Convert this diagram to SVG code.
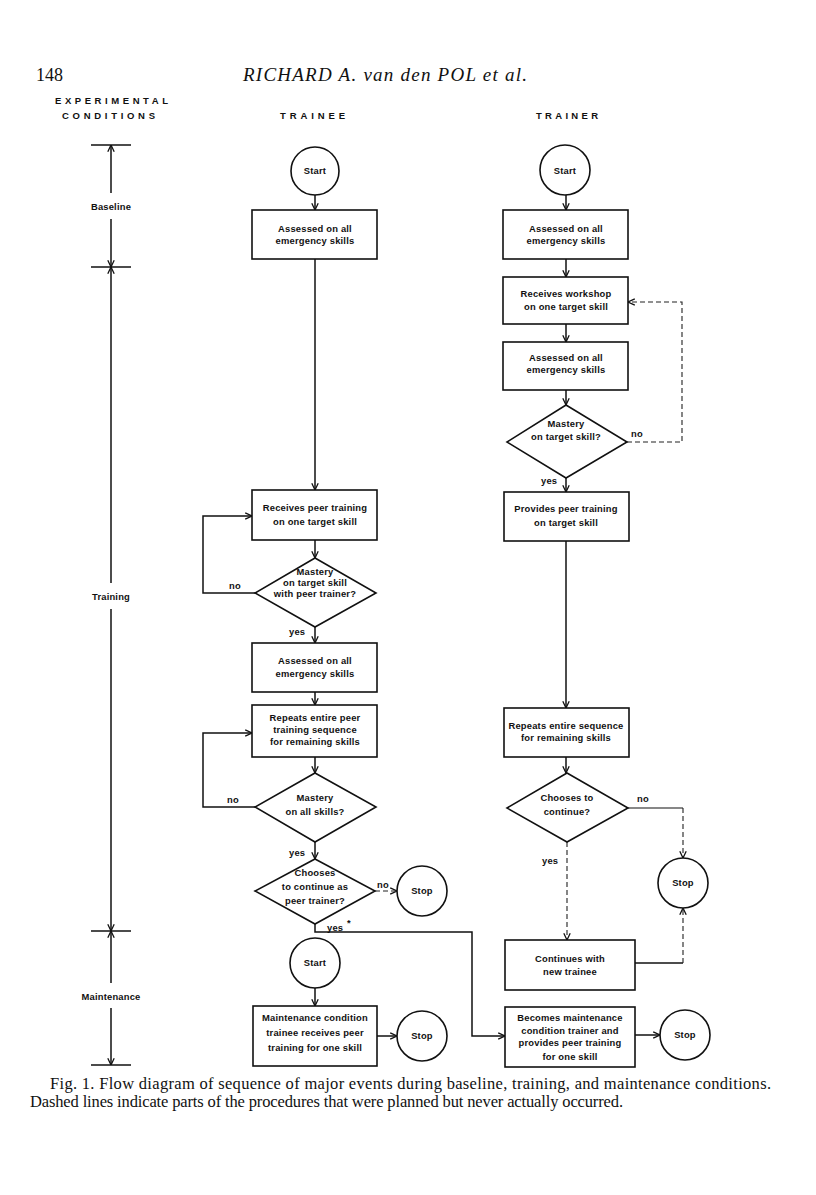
<svg xmlns="http://www.w3.org/2000/svg" width="816" height="1195" viewBox="0 0 816 1195">
<defs>
<marker id="arr" viewBox="0 0 10 10" refX="9.5" refY="5" markerWidth="8" markerHeight="8" markerUnits="userSpaceOnUse" orient="auto">
<path d="M1,1 L9.5,5 L1,9" fill="none" stroke="#111" stroke-width="1.6"/>
</marker>
<style>
.box{fill:#fff;stroke:#111;stroke-width:1.6}
.ln{fill:none;stroke:#111;stroke-width:1.5}
.dl{fill:none;stroke:#222;stroke-width:1.1;stroke-dasharray:5,3}
.t{font-family:"Liberation Sans",Arial,sans-serif;font-weight:bold;font-size:9.4px;fill:#111;text-anchor:middle;letter-spacing:0.2px}
.lbl{font-family:"Liberation Sans",Arial,sans-serif;font-weight:bold;font-size:9.4px;fill:#111;letter-spacing:0.2px}
.hd{font-family:"Liberation Sans",Arial,sans-serif;font-weight:bold;font-size:9.5px;fill:#111}
.ser{font-family:"Liberation Serif","Times New Roman",serif;fill:#111}
</style>
</defs>
<rect width="816" height="1195" fill="#fff"/>

<g id="header">
<text class="ser" x="36" y="81" font-size="18">148</text>
<text class="ser" x="243" y="81" font-size="19" font-style="italic" textLength="284">RICHARD A. van den POL et al.</text>
<text class="hd" x="55" y="104" textLength="113">EXPERIMENTAL</text>
<text class="hd" x="62" y="119" textLength="93">CONDITIONS</text>
<text class="hd" x="280" y="119" textLength="65">TRAINEE</text>
<text class="hd" x="536" y="119" textLength="62">TRAINER</text>
</g>

<g id="axis">
<line class="ln" x1="91" y1="145" x2="131" y2="145"/>
<line class="ln" x1="91" y1="267" x2="131" y2="267"/>
<line class="ln" x1="91" y1="931" x2="131" y2="931"/>
<line class="ln" x1="91" y1="1065" x2="131" y2="1065"/>
<line class="ln" x1="111" y1="193" x2="111" y2="145" marker-end="url(#arr)"/>
<line class="ln" x1="111" y1="219" x2="111" y2="267" marker-end="url(#arr)"/>
<line class="ln" x1="111" y1="583" x2="111" y2="267" marker-end="url(#arr)"/>
<line class="ln" x1="111" y1="609" x2="111" y2="931" marker-end="url(#arr)"/>
<line class="ln" x1="111" y1="983" x2="111" y2="931" marker-end="url(#arr)"/>
<line class="ln" x1="111" y1="1008" x2="111" y2="1065" marker-end="url(#arr)"/>
<text class="t" x="111" y="210">Baseline</text>
<text class="t" x="111" y="600">Training</text>
<text class="t" x="111" y="1000">Maintenance</text>
</g>

<g id="connectors">
<!-- trainee -->
<line class="ln" x1="315" y1="195" x2="315" y2="210" marker-end="url(#arr)"/>
<line class="ln" x1="315" y1="259" x2="315" y2="490" marker-end="url(#arr)"/>
<line class="ln" x1="315" y1="540" x2="315" y2="558" marker-end="url(#arr)"/>
<polyline class="ln" points="255,593 203,593 203,516 252,516" marker-end="url(#arr)"/>
<line class="ln" x1="315" y1="627" x2="315" y2="643" marker-end="url(#arr)"/>
<line class="ln" x1="315" y1="692" x2="315" y2="705" marker-end="url(#arr)"/>
<line class="ln" x1="315" y1="757" x2="315" y2="773" marker-end="url(#arr)"/>
<polyline class="ln" points="255,807 203,807 203,733 252,733" marker-end="url(#arr)"/>
<line class="ln" x1="315" y1="842" x2="315" y2="859" marker-end="url(#arr)"/>
<line class="dl" x1="375" y1="891" x2="397" y2="891" marker-end="url(#arr)"/>
<polyline class="ln" points="315,924 315,932 472,932 472,1036 505,1036" marker-end="url(#arr)"/>
<line class="ln" x1="315" y1="988" x2="315" y2="1006" marker-end="url(#arr)"/>
<line class="ln" x1="377" y1="1036" x2="397" y2="1036" marker-end="url(#arr)"/>
<!-- trainer -->
<line class="ln" x1="566" y1="195" x2="566" y2="210" marker-end="url(#arr)"/>
<line class="ln" x1="566" y1="259" x2="566" y2="277" marker-end="url(#arr)"/>
<line class="ln" x1="566" y1="324" x2="566" y2="342" marker-end="url(#arr)"/>
<line class="ln" x1="566" y1="390" x2="566" y2="405" marker-end="url(#arr)"/>
<polyline class="dl" points="627,442 682,442 682,302 628,302" marker-end="url(#arr)"/>
<line class="ln" x1="566" y1="478" x2="566" y2="492" marker-end="url(#arr)"/>
<line class="ln" x1="566" y1="541" x2="566" y2="708" marker-end="url(#arr)"/>
<line class="ln" x1="566" y1="757" x2="566" y2="773" marker-end="url(#arr)"/>
<line class="ln" x1="628" y1="808" x2="683" y2="808" style="stroke-width:1.1"/>
<line class="dl" x1="683" y1="808" x2="683" y2="858" marker-end="url(#arr)"/>
<line class="dl" x1="567" y1="842" x2="567" y2="940" marker-end="url(#arr)"/>
<line class="ln" x1="635" y1="963" x2="683" y2="963"/>
<line class="dl" x1="683" y1="963" x2="683" y2="908" marker-end="url(#arr)"/>
<line class="ln" x1="635" y1="1035" x2="660" y2="1035" marker-end="url(#arr)"/>
<!-- labels -->
<text class="lbl" x="229" y="589">no</text>
<text class="lbl" x="289" y="635">yes</text>
<text class="lbl" x="227" y="803">no</text>
<text class="lbl" x="289" y="856">yes</text>
<text class="lbl" x="377" y="888">no</text>
<text class="lbl" x="327" y="931">yes</text>
<text class="lbl" x="347" y="926" font-size="7">*</text>
<text class="lbl" x="631" y="437">no</text>
<text class="lbl" x="541" y="484">yes</text>
<text class="lbl" x="637" y="802">no</text>
<text class="lbl" x="542" y="864">yes</text>
</g>

<g id="n-trainee-start"><circle class="box" cx="315" cy="171" r="24"/><text class="t" x="315" y="174">Start</text></g>
<g id="n-trainee-assess1"><rect class="box" x="252" y="210" width="125" height="49"/><text class="t" x="315" y="232">Assessed on all</text><text class="t" x="315" y="244">emergency skills</text></g>
<g id="n-trainee-peer"><rect class="box" x="252" y="490" width="125" height="50"/><text class="t" x="315" y="511">Receives peer training</text><text class="t" x="315" y="525">on one target skill</text></g>
<g id="n-trainee-mastery1"><polygon class="box" points="315,558 376,593 315,627 255,593"/><text class="t" x="315" y="575">Mastery</text><text class="t" x="315" y="586">on target skill</text><text class="t" x="315" y="597">with peer trainer?</text></g>
<g id="n-trainee-assess2"><rect class="box" x="252" y="643" width="125" height="49"/><text class="t" x="315" y="664">Assessed on all</text><text class="t" x="315" y="677">emergency  skills</text></g>
<g id="n-trainee-repeat"><rect class="box" x="252" y="705" width="125" height="52"/><text class="t" x="315" y="721">Repeats entire peer</text><text class="t" x="315" y="733">training sequence</text><text class="t" x="315" y="745">for remaining skills</text></g>
<g id="n-trainee-mastery2"><polygon class="box" points="315,773 376,807 315,842 255,807"/><text class="t" x="315" y="801">Mastery</text><text class="t" x="315" y="815">on all skills?</text></g>
<g id="n-trainee-chooses"><polygon class="box" points="315,859 375,891 315,924 255,891"/><text class="t" x="315" y="876">Chooses</text><text class="t" x="315" y="890">to continue as</text><text class="t" x="315" y="904">peer trainer?</text></g>
<g id="n-trainee-stop1"><circle class="box" cx="422" cy="891" r="25"/><text class="t" x="422" y="894">Stop</text></g>
<g id="n-maint-start"><circle class="box" cx="315" cy="963" r="25"/><text class="t" x="315" y="966">Start</text></g>
<g id="n-maint-trainee"><rect class="box" x="253" y="1006" width="124" height="60"/><text class="t" x="315" y="1021">Maintenance condition</text><text class="t" x="315" y="1036">trainee receives  peer</text><text class="t" x="315" y="1051">training for one skill</text></g>
<g id="n-maint-stop1"><circle class="box" cx="422" cy="1036" r="25"/><text class="t" x="422" y="1039">Stop</text></g>

<g id="n-trainer-start"><circle class="box" cx="565" cy="170" r="25"/><text class="t" x="565" y="174">Start</text></g>
<g id="n-trainer-assess1"><rect class="box" x="503" y="210" width="125" height="49"/><text class="t" x="566" y="232">Assessed on all</text><text class="t" x="566" y="244">emergency skills</text></g>
<g id="n-trainer-workshop"><rect class="box" x="503" y="277" width="125" height="47"/><text class="t" x="566" y="297">Receives workshop</text><text class="t" x="566" y="310">on one target skill</text></g>
<g id="n-trainer-assess2"><rect class="box" x="503" y="342" width="125" height="48"/><text class="t" x="566" y="361">Assessed on all</text><text class="t" x="566" y="373">emergency skills</text></g>
<g id="n-trainer-mastery"><polygon class="box" points="566,405 627,442 566,478 507,442"/><text class="t" x="566" y="427">Mastery</text><text class="t" x="566" y="440">on target skill?</text></g>
<g id="n-trainer-provides"><rect class="box" x="504" y="492" width="125" height="49"/><text class="t" x="566" y="512">Provides peer training</text><text class="t" x="566" y="526">on target skill</text></g>
<g id="n-trainer-repeat"><rect class="box" x="504" y="708" width="125" height="49"/><text class="t" x="566" y="729">Repeats entire sequence</text><text class="t" x="566" y="741">for remaining skills</text></g>
<g id="n-trainer-chooses"><polygon class="box" points="567,773 628,808 567,842 507,808"/><text class="t" x="567" y="801">Chooses to</text><text class="t" x="567" y="815">continue?</text></g>
<g id="n-trainer-stop1"><circle class="box" cx="683" cy="883" r="25"/><text class="t" x="683" y="886">Stop</text></g>
<g id="n-trainer-continues"><rect class="box" x="505" y="940" width="130" height="50"/><text class="t" x="570" y="962">Continues with</text><text class="t" x="570" y="975">new trainee</text></g>
<g id="n-trainer-becomes"><rect class="box" x="505" y="1007" width="130" height="60"/><text class="t" x="570" y="1021">Becomes maintenance</text><text class="t" x="570" y="1034">condition trainer and</text><text class="t" x="570" y="1046">provides peer training</text><text class="t" x="570" y="1060">for one skill</text></g>
<g id="n-trainer-stop2"><circle class="box" cx="685" cy="1035" r="25"/><text class="t" x="685" y="1038">Stop</text></g>

<g id="caption">
<text class="ser" x="50" y="1089" font-size="16.5" textLength="721">Fig. 1. Flow diagram of sequence of major events during baseline, training, and maintenance conditions.</text>
<text class="ser" x="30" y="1107" font-size="16.5" textLength="593">Dashed lines indicate parts of the procedures that were planned but never actually occurred.</text>
</g>
</svg>
